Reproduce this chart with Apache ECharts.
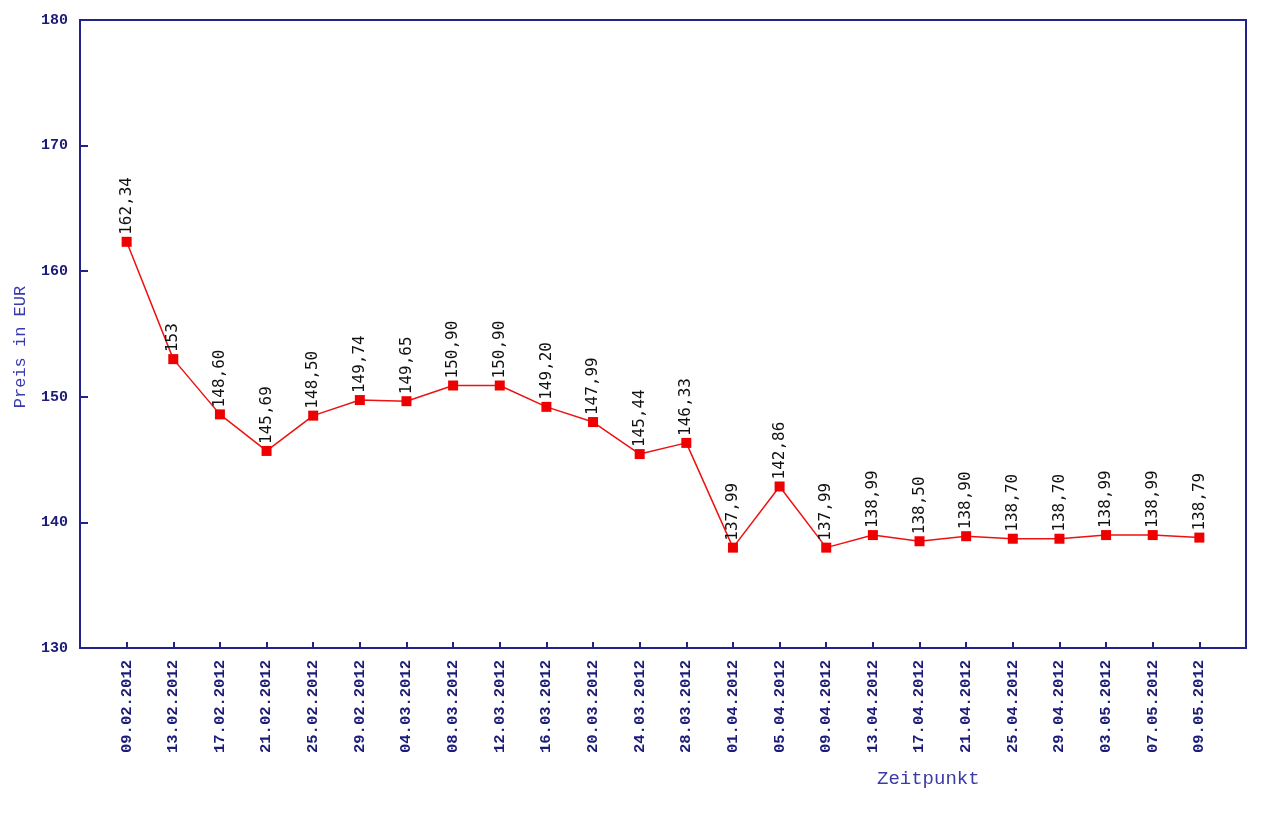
<!DOCTYPE html>
<html>
<head>
<meta charset="utf-8">
<script src="https://cdn.jsdelivr.net/npm/echarts@6/dist/echarts.min.js"></script>
<style>
  html, body { margin: 0; padding: 0; background: #fff; }
  #chart { width: 1280px; height: 826px; }
</style>
</head>
<body>
<div id="chart"></div>
<script>
// Zeitpunkte (x-Achse)
var dates = ['09.02.2012', '13.02.2012', '17.02.2012', '21.02.2012', '25.02.2012', '29.02.2012',
  '04.03.2012', '08.03.2012', '12.03.2012', '16.03.2012', '20.03.2012', '24.03.2012',
  '28.03.2012', '01.04.2012', '05.04.2012', '09.04.2012', '13.04.2012', '17.04.2012',
  '21.04.2012', '25.04.2012', '29.04.2012', '03.05.2012', '07.05.2012', '09.05.2012'];
// Preis in EUR
var prices = [162.34, 153, 148.60, 145.69, 148.50, 149.74, 149.65, 150.90, 150.90, 149.20,
  147.99, 145.44, 146.33, 137.99, 142.86, 137.99, 138.99, 138.50, 138.90, 138.70,
  138.70, 138.99, 138.99, 138.79];
var yTicks = [130, 140, 150, 160, 170, 180];

var navy = '#22228a';
var labelColor = '#1c1c78';

function fmt(v) {
  if (Number.isInteger(v)) return String(v);
  return v.toFixed(2).replace('.', ',');
}

var chart = echarts.init(document.getElementById('chart'));
chart.setOption({
  animation: false,
  title: {
    text: 'Zeitpunkt',
    left: 872,
    top: 764,
    textStyle: { fontFamily: 'Liberation Mono', fontSize: 19, fontWeight: 'normal', color: '#3a3aa8' }
  },
  grid: {
    left: 80, right: 34, top: 20, bottom: 178,
    show: true, borderColor: navy, borderWidth: 2, backgroundColor: '#fff'
  },
  xAxis: {
    type: 'value',
    min: 0, max: 25, interval: 1,
    splitLine: { show: false },
    axisLine: { lineStyle: { color: navy, width: 2 } },
    axisTick: { inside: true, length: 6, lineStyle: { color: navy, width: 2 } },
    axisLabel: {
      rotate: 90,
      margin: 12,
      color: labelColor,
      fontFamily: 'Liberation Mono',
      fontWeight: 'bold',
      fontSize: 15.5,
      formatter: function (v) { return dates[v - 1] || ''; }
    }
  },
  yAxis: {
    type: 'value',
    min: yTicks[0], max: yTicks[yTicks.length - 1], interval: 10,
    name: 'Preis in EUR',
    nameLocation: 'middle',
    nameGap: 51,
    nameTextStyle: { fontFamily: 'Liberation Mono', fontSize: 17, color: '#3a3ab0', padding: [0, 26, 0, 0] },
    splitLine: { show: false },
    axisLine: { lineStyle: { color: navy, width: 2 } },
    axisTick: { inside: true, length: 8, lineStyle: { color: navy, width: 2 } },
    axisLabel: {
      margin: 12,
      color: labelColor,
      fontFamily: 'Liberation Mono',
      fontWeight: 'bold',
      fontSize: 15
    }
  },
  series: [{
    type: 'line',
    data: prices.map(function (p, i) { return [i + 1, p]; }),
    symbol: 'rect',
    symbolSize: 10,
    itemStyle: { color: '#ee0000' },
    lineStyle: { color: '#ee1111', width: 1.5 },
    label: {
      show: true,
      position: 'top',
      rotate: 90,
      align: 'left',
      verticalAlign: 'middle',
      distance: 2,
      color: '#111',
      fontFamily: 'DejaVu Sans Mono',
      fontSize: 16,
      formatter: function (p) { return fmt(p.value[1]); }
    }
  }]
});
</script>
</body>
</html>
